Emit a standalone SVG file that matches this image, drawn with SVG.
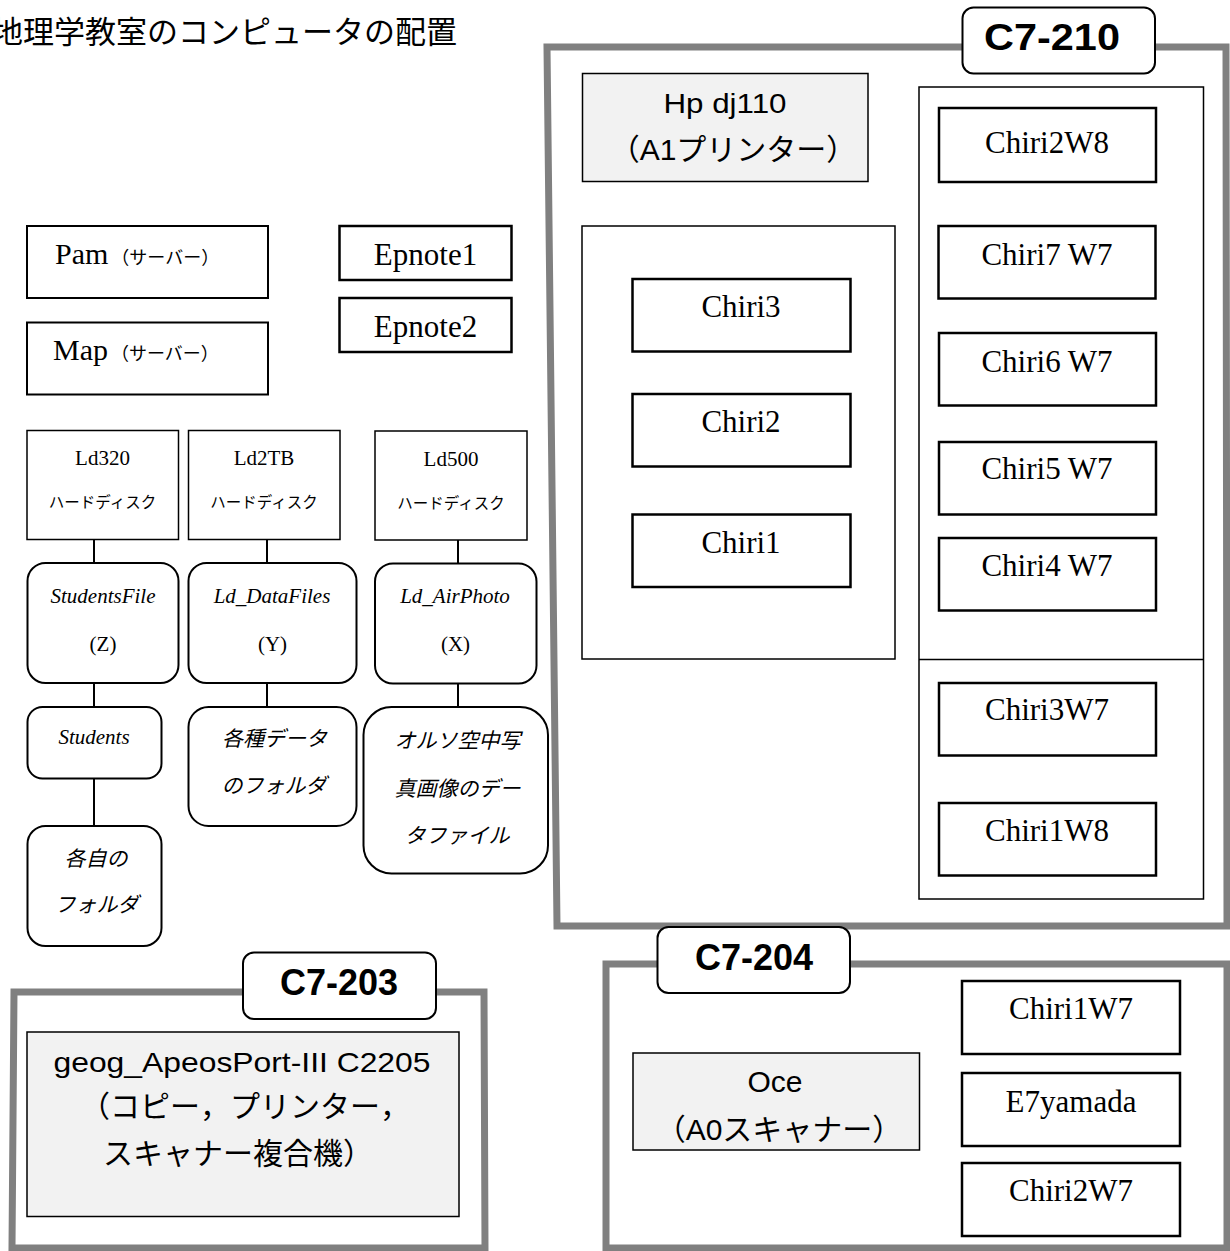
<svg xmlns="http://www.w3.org/2000/svg" width="1230" height="1251" viewBox="0 0 1230 1251">
<style>
.room{fill:none;stroke:#808080;stroke-width:7;stroke-linejoin:miter}
.lbl{fill:#fff;stroke:#000;stroke-width:2}
.lt{font-family:"Liberation Sans",Arial,sans-serif;font-weight:bold;font-size:36px;text-anchor:middle;fill:#000}
.pc{fill:#fff;stroke:#000;stroke-width:2.5}
.box{fill:#fff;stroke:#000;stroke-width:1.5}
.sv{fill:#fff;stroke:#000;stroke-width:2}
.dev{fill:#f2f2f2;stroke:#000;stroke-width:1.5}
.rnd{fill:#fff;stroke:#000;stroke-width:2}
.serif{font-family:"Liberation Serif","Noto Sans CJK JP",serif;fill:#000;text-anchor:middle}
.sans{font-family:"Liberation Sans","Noto Sans CJK JP",sans-serif;fill:#000;text-anchor:middle}
.jp{font-family:"Noto Sans CJK JP",sans-serif;fill:#000;text-anchor:middle}
.big{font-size:31px}
.hd{font-size:21px}
.it{font-style:italic}
.conn line{stroke:#000;stroke-width:2}
</style>

<text x="-8" y="43" font-family="'Noto Sans CJK JP',sans-serif" font-size="31" fill="#000">地理学教室のコンピュータの配置</text>

<!-- Room C7-210 -->
<g id="room-c7-210">
  <path class="room" d="M547 47 L1226 47 L1227 926 L557 926 Z"/>
  <rect class="lbl" x="962.5" y="7.5" width="192.5" height="66" rx="11"/>
  <text class="lt" x="1052" y="50" textLength="136" lengthAdjust="spacingAndGlyphs">C7-210</text>
</g>
<g id="hp-dj110">
  <rect class="dev" x="582.5" y="73.5" width="285.5" height="108"/>
  <text class="sans" x="725" y="113" font-size="28" textLength="123" lengthAdjust="spacingAndGlyphs">Hp dj110</text>
  <text class="sans" x="733" y="160" font-size="30">（A1プリンター）</text>
</g>
<g id="group-left">
  <rect class="box" x="582" y="226" width="313" height="433"/>
</g>
<g id="group-right">
  <rect class="box" x="919" y="87" width="284.5" height="812"/>
  <line x1="919" y1="659.5" x2="1203.5" y2="659.5" stroke="#000" stroke-width="1.5"/>
</g>
<g id="chiri2w8"><rect class="pc" x="939" y="108" width="217" height="74"/><text class="serif big" x="1047" y="153">Chiri2W8</text></g>
<g id="chiri7w7"><rect class="pc" x="938.5" y="226" width="217" height="72.5"/><text class="serif big" x="1047" y="265">Chiri7 W7</text></g>
<g id="chiri6w7"><rect class="pc" x="939" y="333" width="217" height="72.5"/><text class="serif big" x="1047" y="372">Chiri6 W7</text></g>
<g id="chiri5w7"><rect class="pc" x="939" y="442" width="217" height="72.5"/><text class="serif big" x="1047" y="479">Chiri5 W7</text></g>
<g id="chiri4w7"><rect class="pc" x="939" y="538" width="217" height="72.5"/><text class="serif big" x="1047" y="576">Chiri4 W7</text></g>
<g id="chiri3w7"><rect class="pc" x="939" y="683" width="217" height="72.5"/><text class="serif big" x="1047" y="720">Chiri3W7</text></g>
<g id="chiri1w8"><rect class="pc" x="939" y="803" width="217" height="72.5"/><text class="serif big" x="1047" y="841">Chiri1W8</text></g>
<g id="chiri3"><rect class="pc" x="632.5" y="279" width="218" height="72.5"/><text class="serif big" x="741" y="317">Chiri3</text></g>
<g id="chiri2"><rect class="pc" x="632.5" y="394" width="218" height="72.5"/><text class="serif big" x="741" y="432">Chiri2</text></g>
<g id="chiri1"><rect class="pc" x="632.5" y="514.5" width="218" height="72.5"/><text class="serif big" x="741" y="553">Chiri1</text></g>

<!-- Servers / notebooks -->
<g id="pam"><rect class="sv" x="27" y="226" width="241" height="72"/><text class="serif" x="55" y="264" style="text-anchor:start"><tspan font-size="30">Pam</tspan><tspan font-size="18" dx="3">（サーバー）</tspan></text></g>
<g id="map"><rect class="sv" x="27" y="322.5" width="241" height="72"/><text class="serif" x="53" y="360" style="text-anchor:start"><tspan font-size="30">Map</tspan><tspan font-size="18" dx="3">（サーバー）</tspan></text></g>
<g id="epnote1"><rect class="pc" x="339.5" y="226" width="172" height="54"/><text class="serif big" x="425.5" y="265">Epnote1</text></g>
<g id="epnote2"><rect class="pc" x="339.5" y="298" width="172" height="54"/><text class="serif big" x="425.5" y="337">Epnote2</text></g>

<!-- Disks -->
<g id="ld320"><rect class="box" x="27" y="430.5" width="151.5" height="109"/><text class="serif hd" x="102.5" y="465">Ld320</text><text class="jp" x="102.5" y="508" font-size="15.5">ハードディスク</text></g>
<g id="ld2tb"><rect class="box" x="188.5" y="430.5" width="151.5" height="109"/><text class="serif hd" x="264" y="465">Ld2TB</text><text class="jp" x="264" y="508" font-size="15.5">ハードディスク</text></g>
<g id="ld500"><rect class="box" x="375" y="431" width="152" height="109"/><text class="serif hd" x="451" y="466">Ld500</text><text class="jp" x="451" y="509" font-size="15.5">ハードディスク</text></g>

<g id="studentsfile"><rect class="rnd" x="27.5" y="563" width="151" height="120" rx="18"/><text class="serif hd it" x="103" y="603">StudentsFile</text><text class="serif hd" x="103" y="651">(Z)</text></g>
<g id="ld-datafiles"><rect class="rnd" x="188.5" y="563" width="168" height="120" rx="18"/><text class="serif hd it" x="272" y="603">Ld_DataFiles</text><text class="serif hd" x="272.5" y="651">(Y)</text></g>
<g id="ld-airphoto"><rect class="rnd" x="375" y="563.5" width="161.5" height="120" rx="18"/><text class="serif hd it" x="455" y="603">Ld_AirPhoto</text><text class="serif hd" x="455.5" y="651">(X)</text></g>
<g id="students"><rect class="rnd" x="27.5" y="707" width="134" height="71.5" rx="15"/><text class="serif hd it" x="94" y="744">Students</text></g>
<g id="kakuji"><rect class="rnd" x="27.5" y="826" width="134" height="120" rx="18"/><text class="jp it" x="96" y="866" font-size="21">各自の</text><text class="jp it" x="96.5" y="912" font-size="21">フォルダ</text></g>
<g id="kakushu"><rect class="rnd" x="188.5" y="707" width="168" height="119" rx="20"/><text class="jp it" x="274.5" y="746" font-size="21">各種データ</text><text class="jp it" x="274" y="793" font-size="21">のフォルダ</text></g>
<g id="ortho"><rect class="rnd" x="363.5" y="707" width="184.5" height="166.5" rx="28"/><text class="jp it" x="457.5" y="748" font-size="21">オルソ空中写</text><text class="jp it" x="457.5" y="796" font-size="21">真画像のデー</text><text class="jp it" x="457" y="843" font-size="21">タファイル</text></g>

<g id="connectors" class="conn">
  <line x1="94" y1="540" x2="94" y2="563"/>
  <line x1="94" y1="683" x2="94" y2="707"/>
  <line x1="94" y1="778.5" x2="94" y2="826"/>
  <line x1="267" y1="540" x2="267" y2="563"/>
  <line x1="267" y1="683" x2="267" y2="707"/>
  <line x1="458" y1="540" x2="458" y2="563.5"/>
  <line x1="458" y1="683.5" x2="458" y2="707"/>
</g>

<!-- Room C7-203 -->
<g id="room-c7-203">
  <path class="room" d="M14 992 L484 992 L485 1248 L12 1248 Z"/>
  <rect class="lbl" x="243" y="952.5" width="193" height="66.5" rx="11"/>
  <text class="lt" x="339" y="995">C7-203</text>
</g>
<g id="geog-apeosport">
  <rect class="dev" x="27" y="1032" width="432" height="184.5"/>
  <text class="sans" x="242" y="1071.5" font-size="28" textLength="377" lengthAdjust="spacingAndGlyphs">geog_ApeosPort-III C2205</text>
  <text class="jp" x="245" y="1117" font-size="30">（コピー，プリンター，</text>
  <text class="jp" x="238" y="1164" font-size="30">スキャナー複合機）</text>
</g>

<!-- Room C7-204 -->
<g id="room-c7-204">
  <path class="room" d="M606 964 L1227 964 L1227 1248 L606 1248 Z"/>
  <rect class="lbl" x="657.5" y="927" width="192.5" height="66" rx="11"/>
  <text class="lt" x="754" y="970">C7-204</text>
</g>
<g id="oce">
  <rect class="dev" x="633" y="1053" width="286.5" height="97"/>
  <text class="sans" x="775" y="1092" font-size="30">Oce</text>
  <text class="sans" x="779" y="1140" font-size="30">（A0スキャナー）</text>
</g>
<g id="chiri1w7"><rect class="pc" x="962" y="981" width="218" height="73"/><text class="serif big" x="1071" y="1019">Chiri1W7</text></g>
<g id="e7yamada"><rect class="pc" x="962" y="1073" width="218" height="73"/><text class="serif big" x="1071" y="1112">E7yamada</text></g>
<g id="chiri2w7"><rect class="pc" x="962" y="1163" width="218" height="73"/><text class="serif big" x="1071" y="1201">Chiri2W7</text></g>
</svg>
